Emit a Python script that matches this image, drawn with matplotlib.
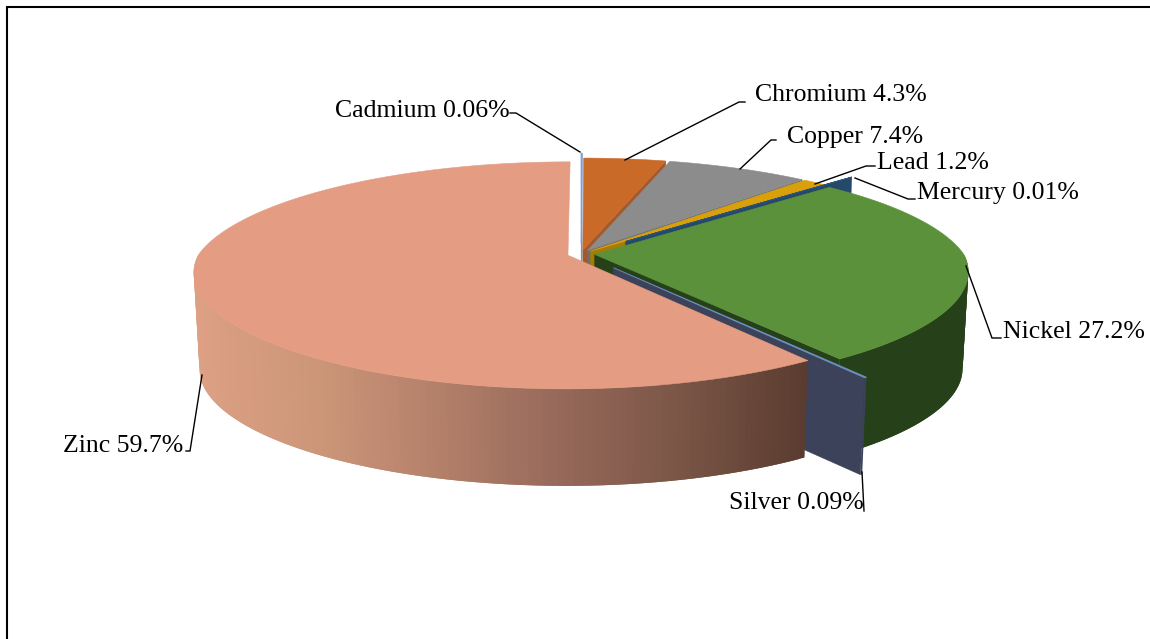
import numpy as np
import matplotlib
matplotlib.use("Agg")
import matplotlib.pyplot as plt
from matplotlib.colors import to_rgb

names = ["Cadmium", "Chromium", "Copper", "Lead", "Mercury", "Nickel", "Silver", "Zinc"]
values = [0.06, 4.3, 7.4, 1.2, 0.01, 27.2, 0.09, 59.7]

explode = [0.10, 0.037, 0.037, 0.037, 0.17, 0.037, 0.15, 0.037]
top_colors = ["#7C9FD6", "#C96A28", "#8C8C8C", "#D9A00B", "#2A5478", "#5C913B", "#6E90C0", "#E49D82"]
wall_colors = ["#6F8FC0", "#A2592C", "#6E6E6E", "#A67C05", "#24496B", "#26401A", "#3B4259", "#6A4536"]
zinc_stops = ["#DDA084", "#CC9679", "#B4806A", "#96695A", "#7A5546", "#5A3C30"]
label_pos = [(335, 111), (755, 95), (787, 137), (877, 163), (917, 193), (1003, 332), (729, 503), (63, 446)]
leaders = [
    [(510, 113), (516, 113), (580, 152)],
    [(745, 102), (739, 102), (625, 160)],
    [(776, 140), (771, 140), (740, 169)],
    [(875, 166), (866, 166), (815, 184)],
    [(915, 199), (908, 199), (855, 178)],
    [(1001, 338), (992, 338), (966, 266)],
    [(864, 511), (862, 472)],
    [(186, 451), (190, 451), (202, 375)],
]

CX, CY, A, B, KY, DEPTH, SHRINK = 581, 254, 369, 109.5, 0.177, 97, 0.985
KX_FRONT, KX_BACK = 0.15, 0.2


def project(u, v, low=False):
    u, v = np.asarray(u, float), np.asarray(v, float)
    x = A * u / (1 - np.where(v < 0, KX_BACK, KX_FRONT) * v)
    y = B * v / (1 - KY * v)
    if low:
        return CX + x * SHRINK, CY + y + DEPTH
    return CX + x, CY + y


def rim(theta, ex, mid):
    t = np.radians(theta)
    m = np.radians(mid)
    return np.sin(t) + ex * np.sin(m), -np.cos(t) + ex * -np.cos(m)


fig = plt.figure(figsize=(11.5, 6.39), dpi=100)
ax = fig.add_axes([0, 0, 1, 1])
ax.set_xlim(0, 1150)
ax.set_ylim(639, 0)
ax.axis("off")

total = sum(values)
start = 0.0
for i, val in enumerate(values):
    span = val / total * 360
    end = start + span
    mid = (start + end) / 2
    ex = explode[i]
    amid = rim(mid, ex, mid)
    apex = (ex * np.sin(np.radians(mid)), -ex * np.cos(np.radians(mid)))
    ax_, ay_ = project(*apex)
    bx_, by_ = project(*apex, low=True)
    mx_, my_ = project(*amid)

    # radial faces that look towards the viewer (the 12 o'clock seam is edge-on)
    for ang in (start, end):
        if abs(np.sin(np.radians(ang))) < 1e-6:
            continue
        ru, rv = rim(ang, ex, mid)
        rx, ry = project(ru, rv)
        lx, ly = project(ru, rv, low=True)
        ex_, ey_ = rx - ax_, ry - ay_
        side_down = ex_ * 1.0
        side_in = ex_ * (my_ - ay_) - ey_ * (mx_ - ax_)
        if side_down * side_in < 0:
            ax.fill([ax_, rx, lx, bx_], [ay_, ry, ly, by_], color=wall_colors[i],
                    lw=0.3, zorder=i * 3 + 1)

    # outer wall, front part only; each strip overlaps the next to hide seams
    n = max(int(span / 1.0), 1)
    th = np.linspace(start, end, n + 1)
    u, v = rim(th, ex, mid)
    tx, ty = project(u, v)
    lx, ly = project(u, v, low=True)
    for j in range(n):
        if -np.cos(np.radians((th[j] + th[j + 1]) / 2)) < 0:
            continue
        if names[i] == "Zinc":
            f = np.clip((tx[j] - 195) / (808 - 195), 0, 1) * (len(zinc_stops) - 1)
            k = min(int(f), len(zinc_stops) - 2)
            c = (1 - (f - k)) * np.array(to_rgb(zinc_stops[k])) + (f - k) * np.array(to_rgb(zinc_stops[k + 1]))
        else:
            c = wall_colors[i]
        q = min(j + 2, n)
        ax.fill([tx[j], tx[q], lx[q], lx[j]], [ty[j], ty[q], ly[q], ly[j]],
                color=c, lw=0, zorder=i * 3 + 2)

    # top face
    ax.fill(np.r_[ax_, tx], np.r_[ay_, ty], color=top_colors[i],
            lw=0.6 if span < 0.5 else 0.4, zorder=i * 3 + 3)
    start = end

for pts in leaders:
    xs, ys = zip(*pts)
    ax.plot(xs, ys, color="black", lw=1.0, zorder=50, solid_joinstyle="miter")

for name, val, (x, y) in zip(names, values, label_pos):
    ax.text(x, y, f"{name} {val}%", family="Liberation Serif", fontsize=18.5,
            color="black", ha="left", va="center", zorder=60)

# outer frame: left and top edges only are inside the picture
ax.plot([7, 7, 1150], [639, 6.5, 6.5], color="black", lw=1.5, zorder=70,
        solid_joinstyle="miter")

fig.savefig("out.png", dpi=100)
